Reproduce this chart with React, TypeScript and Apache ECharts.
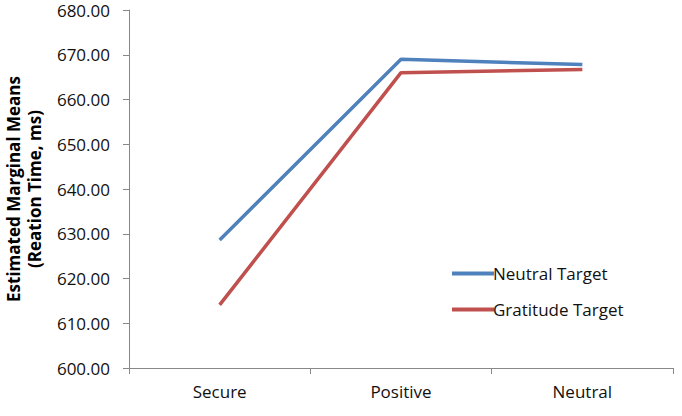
import React, { useEffect, useRef } from "react";
import * as echarts from "echarts";

const categories = ["Secure", "Positive", "Neutral"];
const neutralTarget = [628.6, 669.0, 667.8];
const gratitudeTarget = [614.1, 666.0, 666.7];
const yTicks = { min: 600, max: 680, interval: 10 };

const FONT = "'Open Sans', 'Noto Sans', sans-serif";
const AXIS_GRAY = "#888888";

export default function App() {
  const ref = useRef<HTMLDivElement>(null);

  useEffect(() => {
    if (!ref.current) return;
    const chart = echarts.init(ref.current, undefined, { renderer: "svg" });
    chart.setOption({
      animation: false,
      backgroundColor: "#ffffff",
      grid: {
        left: 129,
        right: 9,
        top: 10,
        bottom: 48,
        containLabel: false,
        outerBoundsMode: "none",
      },
      legend: {
        orient: "vertical",
        left: 447,
        top: 260,
        itemGap: 19,
        itemWidth: 42,
        itemHeight: 4,
        icon: "rect",
        textStyle: { fontFamily: FONT, fontSize: 17, color: "#111", padding: [0, 0, 0, -6] },
        data: ["Neutral Target", "Gratitude Target"],
      },
      xAxis: {
        type: "category",
        data: categories,
        boundaryGap: true,
        axisLine: { lineStyle: { color: AXIS_GRAY, width: 1 } },
        axisTick: { show: true, length: 6, interval: 0, lineStyle: { color: AXIS_GRAY } },
        axisLabel: { fontFamily: FONT, fontSize: 17, color: "#111", margin: 15 },
        splitLine: { show: false },
      },
      yAxis: {
        type: "value",
        min: yTicks.min,
        max: yTicks.max,
        interval: yTicks.interval,
        name: "Estimated Marginal Means\n(Reation Time, ms)",
        nameLocation: "middle",
        nameRotate: 90,
        nameGap: 84,
        nameTextStyle: {
          fontFamily: FONT,
          fontSize: 17,
          fontWeight: "bold",
          color: "#000",
          lineHeight: 21,
        },
        axisLine: { show: true, lineStyle: { color: AXIS_GRAY, width: 1 } },
        axisTick: { show: true, length: 6, lineStyle: { color: AXIS_GRAY } },
        axisLabel: {
          fontFamily: FONT,
          fontSize: 17,
          color: "#111",
          margin: 19,
          formatter: (v: number) => v.toFixed(2),
        },
        splitLine: { show: false },
      },
      series: [
        {
          name: "Neutral Target",
          type: "line",
          data: neutralTarget,
          symbol: "none",
          color: "#4F81BD",
          lineStyle: { width: 3.5, color: "#4F81BD" },
        },
        {
          name: "Gratitude Target",
          type: "line",
          data: gratitudeTarget,
          symbol: "none",
          color: "#C0504D",
          lineStyle: { width: 3.5, color: "#C0504D" },
        },
      ],
    });
    return () => chart.dispose();
  }, []);

  return <div ref={ref} style={{ width: 682, height: 416, position: "absolute", left: 0, top: 0 }} />;
}
